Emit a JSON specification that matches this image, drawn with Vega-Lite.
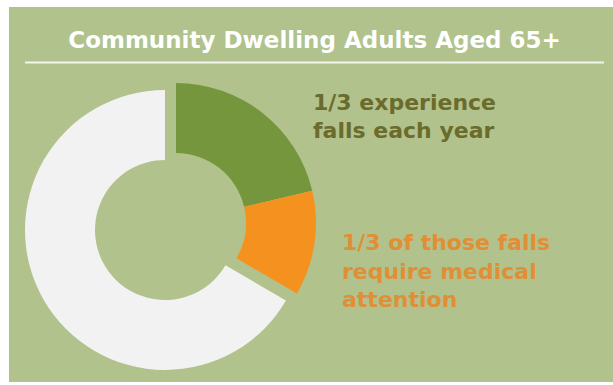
{
  "$schema": "https://vega.github.io/schema/vega-lite/v6.json",
  "width": 613,
  "height": 385,
  "autosize": {"type": "fit", "contains": "padding"},
  "padding": {"left": 9, "top": 7, "right": 0, "bottom": 3},
  "background": "#ffffff",
  "view": {"fill": "#b1c28c", "stroke": null},
  "data": {
    "values": [
      {"segment": "Falls, no medical attention", "share": 21.3, "order": 1},
      {"segment": "Falls requiring medical attention", "share": 12.1, "order": 2},
      {"segment": "No falls", "share": 66.6, "order": 3}
    ]
  },
  "layer": [
    {
      "transform": [
        {"stack": "share", "groupby": [], "sort": [{"field": "order"}], "as": ["s0", "s1"]},
        {"filter": "datum.segment === 'No falls'"}
      ],
      "mark": {"type": "arc", "outerRadius": 140, "innerRadius": 70},
      "encoding": {
        "theta": {"field": "s0", "type": "quantitative", "scale": {"domain": [0, 100]}},
        "theta2": {"field": "s1"},
        "color": {
          "field": "segment", "type": "nominal", "legend": null,
          "scale": {
            "domain": ["Falls, no medical attention", "Falls requiring medical attention", "No falls"],
            "range": ["#76963e", "#f5921f", "#f2f2f2"]
          }
        },
        "x": {"datum": 156, "type": "quantitative", "scale": {"domain": [0, 604], "nice": false, "zero": false}, "axis": null},
        "y": {"datum": 223, "type": "quantitative", "scale": {"domain": [0, 375], "nice": false, "zero": false, "reverse": true}, "axis": null}
      }
    },
    {
      "transform": [
        {"stack": "share", "groupby": [], "sort": [{"field": "order"}], "as": ["s0", "s1"]},
        {"filter": "datum.segment !== 'No falls'"}
      ],
      "mark": {"type": "arc", "outerRadius": 140, "innerRadius": 70},
      "encoding": {
        "theta": {"field": "s0", "type": "quantitative", "scale": {"domain": [0, 100]}},
        "theta2": {"field": "s1"},
        "color": {
          "field": "segment", "type": "nominal", "legend": null,
          "scale": {
            "domain": ["Falls, no medical attention", "Falls requiring medical attention", "No falls"],
            "range": ["#76963e", "#f5921f", "#f2f2f2"]
          }
        },
        "x": {"datum": 167, "type": "quantitative", "scale": {"domain": [0, 604], "nice": false, "zero": false}, "axis": null},
        "y": {"datum": 216, "type": "quantitative", "scale": {"domain": [0, 375], "nice": false, "zero": false, "reverse": true}, "axis": null}
      }
    },
    {
      "data": {"values": [{"title": "Community Dwelling Adults Aged 65+"}]},
      "mark": {"type": "text", "font": "DejaVu Sans", "fontWeight": "bold", "fontSize": 23, "align": "center", "baseline": "alphabetic", "color": "#ffffff"},
      "encoding": {
        "text": {"field": "title"},
        "x": {"datum": 305.5, "type": "quantitative", "scale": {"domain": [0, 604], "nice": false, "zero": false}, "axis": null},
        "y": {"datum": 41, "type": "quantitative", "scale": {"domain": [0, 375], "nice": false, "zero": false, "reverse": true}, "axis": null}
      }
    },
    {
      "data": {"values": [{}]},
      "mark": {"type": "rule", "color": "#f4f4ee", "strokeWidth": 2},
      "encoding": {
        "x": {"datum": 16, "type": "quantitative", "scale": {"domain": [0, 604], "nice": false, "zero": false}, "axis": null},
        "x2": {"datum": 595},
        "y": {"datum": 55.5, "type": "quantitative", "scale": {"domain": [0, 375], "nice": false, "zero": false, "reverse": true}, "axis": null}
      }
    },
    {
      "data": {"values": [{"label": ["1/3 experience", "falls each year"]}]},
      "mark": {"type": "text", "font": "DejaVu Sans", "fontWeight": "bold", "fontSize": 22, "align": "left", "baseline": "alphabetic", "lineHeight": 28, "color": "#6b6b2c"},
      "encoding": {
        "text": {"field": "label"},
        "x": {"datum": 304, "type": "quantitative", "scale": {"domain": [0, 604], "nice": false, "zero": false}, "axis": null},
        "y": {"datum": 103, "type": "quantitative", "scale": {"domain": [0, 375], "nice": false, "zero": false, "reverse": true}, "axis": null}
      }
    },
    {
      "data": {"values": [{"label": ["1/3 of those falls", "require medical", "attention"]}]},
      "mark": {"type": "text", "font": "DejaVu Sans", "fontWeight": "bold", "fontSize": 22, "align": "left", "baseline": "alphabetic", "lineHeight": 28.5, "color": "#e08f36"},
      "encoding": {
        "text": {"field": "label"},
        "x": {"datum": 333, "type": "quantitative", "scale": {"domain": [0, 604], "nice": false, "zero": false}, "axis": null},
        "y": {"datum": 243, "type": "quantitative", "scale": {"domain": [0, 375], "nice": false, "zero": false, "reverse": true}, "axis": null}
      }
    }
  ]
}
